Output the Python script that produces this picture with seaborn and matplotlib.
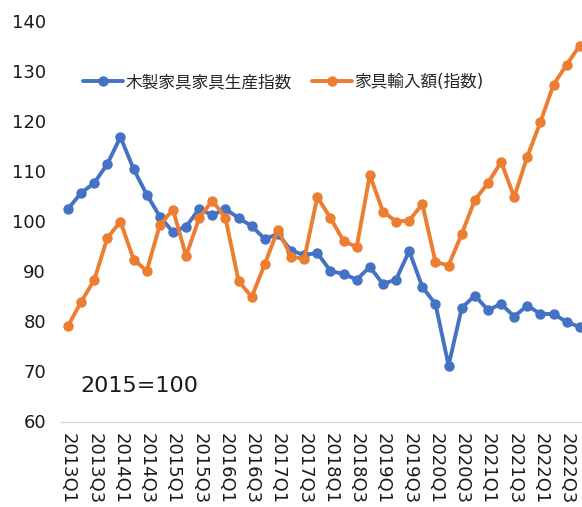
import matplotlib
matplotlib.use('Agg')
import matplotlib.pyplot as plt
import seaborn as sns
import pandas as pd

quarters = ['2013Q1', '2013Q2', '2013Q3', '2013Q4', '2014Q1', '2014Q2', '2014Q3', '2014Q4',
            '2015Q1', '2015Q2', '2015Q3', '2015Q4', '2016Q1', '2016Q2', '2016Q3', '2016Q4',
            '2017Q1', '2017Q2', '2017Q3', '2017Q4', '2018Q1', '2018Q2', '2018Q3', '2018Q4',
            '2019Q1', '2019Q2', '2019Q3', '2019Q4', '2020Q1', '2020Q2', '2020Q3', '2020Q4',
            '2021Q1', '2021Q2', '2021Q3', '2021Q4', '2022Q1', '2022Q2', '2022Q3', '2022Q4']

wood_furniture = [102.5, 105.7, 107.7, 111.5, 116.9, 110.5, 105.4, 101.0, 97.9, 99.0,
                  102.5, 101.3, 102.5, 100.7, 99.1, 96.5, 97.5, 94.2, 93.3, 93.7,
                  90.1, 89.5, 88.4, 90.9, 87.5, 88.4, 94.1, 86.9, 83.5, 71.2,
                  82.7, 85.2, 82.3, 83.5, 81.0, 83.2, 81.5, 81.5, 79.9, 78.9]

furniture_imports = [79.1, 83.9, 88.3, 96.7, 100.0, 92.4, 90.1, 99.3, 102.4, 93.1,
                     100.7, 104.2, 100.7, 88.1, 84.9, 91.5, 98.4, 93.0, 92.5, 104.9,
                     100.7, 96.1, 94.9, 109.3, 102.0, 100.0, 100.2, 103.5, 91.9, 91.2,
                     97.5, 104.3, 107.7, 111.9, 104.9, 113.0, 119.9, 127.4, 131.4, 135.2]

series_names = ['木製家具家具生産指数', '家具輸入額(指数)']
series_colors = ['#4472C4', '#ED7D31']


def plot_chart() -> None:
    sns.set_style(style='white')
    plt.rcParams['font.family'] = ['DejaVu Sans', 'Noto Sans CJK JP']

    data = pd.DataFrame({'pos': range(len(quarters)),
                         'wood': wood_furniture,
                         'imports': furniture_imports})

    fig = plt.figure(figsize=(5.82, 5.07), dpi=100)
    ax = fig.add_axes([61.4 / 582, 85.5 / 507, 525.0 / 582, 400.0 / 507])

    for col, name, color in zip(['wood', 'imports'], series_names, series_colors):
        sns.lineplot(data=data, x='pos', y=col, color=color, label=name,
                     marker='o', markersize=7.5, markeredgewidth=0,
                     linewidth=2.8, ax=ax, legend=False)

    ax.set_xlim(-0.5, len(quarters) - 0.5)
    ax.set_ylim(60, 140)
    ax.set_yticks(range(60, 141, 10))
    ax.set_xticks(range(0, len(quarters), 2))
    ax.set_xticklabels(quarters[::2], rotation=270, ha='center', va='top')
    ax.tick_params(axis='x', length=0, pad=8, labelsize=13, colors='#1a1a1a')
    ax.tick_params(axis='y', length=0, pad=11, labelsize=13, colors='#1a1a1a')
    ax.set_xlabel('')
    ax.set_ylabel('')

    for side in ['left', 'right', 'top']:
        ax.spines[side].set_visible(False)
    ax.spines['bottom'].set_color('#D9D9D9')
    ax.spines['bottom'].set_linewidth(1.0)

    handles, labels = ax.get_legend_handles_labels()
    fig.legend(handles, labels, loc='center left',
               bbox_to_anchor=(83 / 582, (507 - 82) / 507),
               ncol=2, frameon=False, fontsize=12,
               handlelength=2.4, handletextpad=0.15, columnspacing=1.2,
               borderpad=0, borderaxespad=0)

    fig.text(80 / 582, (507 - 392) / 507, '2015=100', fontsize=16,
             va='baseline', ha='left', color='#1a1a1a')

    fig.savefig('out.png', dpi=100)
    plt.close(fig=fig)


if __name__ == '__main__':
    plot_chart()
